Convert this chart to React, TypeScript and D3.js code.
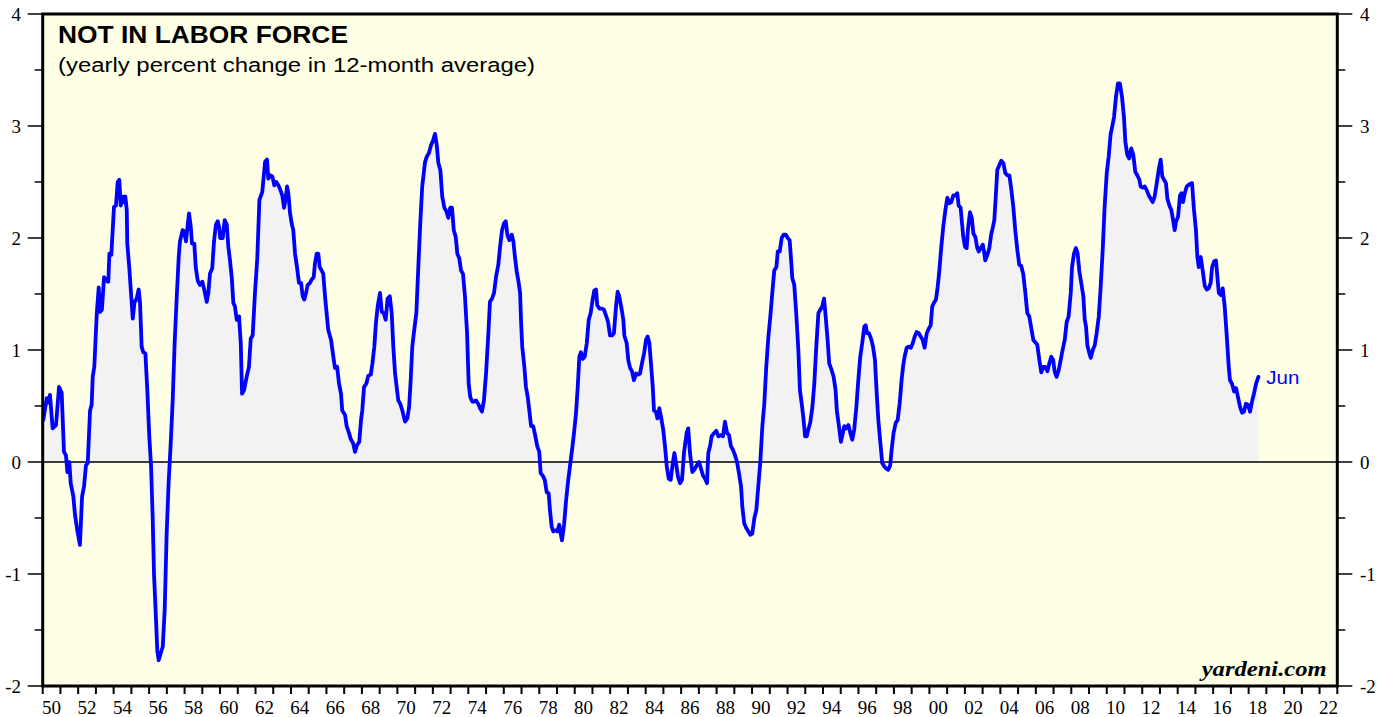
import React from 'react';
import * as d3 from 'd3';

// ---- data: [decimal year, yearly % change in 12-month average] ----
const series1950s: [number, number][] = [
  [1950.03,0.375],[1950.23,0.57],[1950.32,0.53],[1950.41,0.60],[1950.56,0.30],[1950.75,0.33],[1950.92,0.67],[1951.07,0.62],
  [1951.20,0.09],[1951.31,0.06],[1951.39,-0.09],[1951.50,0.0],[1951.58,-0.19],[1951.73,-0.31],[1951.82,-0.47],[1951.95,-0.61],
  [1952.10,-0.74],[1952.22,-0.31],[1952.33,-0.22],[1952.44,-0.03],[1952.54,-0.01],[1952.67,0.46],[1952.76,0.51],[1952.82,0.76],
  [1952.91,0.85],[1953.05,1.33],[1953.16,1.56],[1953.23,1.34],[1953.34,1.36],[1953.46,1.65],[1953.57,1.62],[1953.70,1.61],
  [1953.76,1.86],[1953.87,1.85],[1954.02,2.28],[1954.13,2.29],[1954.23,2.50],[1954.32,2.52],[1954.40,2.29],[1954.51,2.37],
  [1954.58,2.32],[1954.66,2.37],[1954.74,2.25],[1954.77,1.95],[1954.88,1.74],[1954.98,1.51],[1955.08,1.28],[1955.17,1.42],
  [1955.30,1.46],[1955.41,1.54],[1955.49,1.42],[1955.58,1.03],[1955.67,0.98],[1955.79,0.97],[1955.90,0.64],[1956.01,0.23],
  [1956.11,-0.04],[1956.20,-0.49],[1956.28,-1.02],[1956.35,-1.26],[1956.46,-1.68],[1956.54,-1.77],[1956.65,-1.71],[1956.77,-1.65],
  [1956.88,-1.32],[1956.99,-0.64],[1957.10,-0.19],[1957.22,0.17],[1957.33,0.55],[1957.44,1.06],[1957.56,1.48],[1957.67,1.83],
  [1957.74,1.97],[1957.89,2.07],[1957.98,2.06],[1958.08,1.97],[1958.18,2.12],[1958.25,2.22],[1958.35,2.10],[1958.42,1.95],
  [1958.55,1.95],[1958.63,1.74],[1958.74,1.62],[1958.87,1.58],[1959.00,1.61],[1959.11,1.54],[1959.25,1.43],[1959.34,1.51],
  [1959.43,1.68],[1959.56,1.73],[1959.66,1.97],[1959.77,2.12],[1959.87,2.15],[1959.96,2.09],
];

const series1960s: [number, number][] = [
  [1960.01,2.00],[1960.15,2.00],[1960.26,2.16],[1960.38,2.12],[1960.47,1.92],[1960.56,1.80],[1960.66,1.65],[1960.75,1.42],
  [1960.84,1.39],[1960.94,1.27],[1961.07,1.30],[1961.17,1.06],[1961.24,0.61],[1961.35,0.64],[1961.50,0.76],[1961.63,0.85],
  [1961.73,1.10],[1961.84,1.13],[1961.97,1.51],[1962.10,1.82],[1962.22,2.34],[1962.38,2.41],[1962.54,2.68],[1962.65,2.70],
  [1962.72,2.53],[1962.82,2.56],[1962.95,2.55],[1963.06,2.47],[1963.17,2.50],[1963.29,2.47],[1963.40,2.43],[1963.51,2.38],
  [1963.61,2.27],[1963.70,2.35],[1963.78,2.46],[1963.85,2.40],[1963.95,2.22],[1964.04,2.13],[1964.13,2.07],[1964.23,1.86],
  [1964.34,1.74],[1964.45,1.60],[1964.57,1.60],[1964.66,1.48],[1964.75,1.45],[1964.85,1.51],[1964.94,1.58],[1965.07,1.60],
  [1965.17,1.63],[1965.28,1.65],[1965.35,1.77],[1965.45,1.86],[1965.54,1.86],[1965.62,1.74],[1965.73,1.71],[1965.82,1.68],
  [1965.92,1.48],[1966.01,1.33],[1966.10,1.18],[1966.26,1.09],[1966.39,0.94],[1966.48,0.84],[1966.60,0.85],[1966.71,0.70],
  [1966.82,0.61],[1966.89,0.46],[1967.05,0.42],[1967.14,0.32],[1967.27,0.26],[1967.38,0.20],[1967.50,0.17],[1967.61,0.09],
  [1967.72,0.15],[1967.85,0.18],[1967.95,0.375],[1968.02,0.46],[1968.12,0.67],[1968.25,0.70],[1968.36,0.77],[1968.50,0.78],
  [1968.59,0.88],[1968.70,1.03],[1968.79,1.24],[1968.89,1.39],[1969.02,1.51],[1969.12,1.34],[1969.23,1.33],[1969.34,1.27],
  [1969.45,1.46],[1969.57,1.48],[1969.68,1.33],[1969.77,1.03],[1969.87,0.79],[1969.96,0.67],
];

const series1970s: [number, number][] = [
  [1970.05,0.55],[1970.16,0.52],[1970.28,0.46],[1970.43,0.36],[1970.56,0.39],[1970.66,0.49],[1970.75,0.73],[1970.84,1.03],
  [1970.95,1.18],[1971.07,1.33],[1971.18,1.74],[1971.29,2.13],[1971.40,2.46],[1971.56,2.68],[1971.67,2.73],[1971.78,2.76],
  [1971.90,2.83],[1972.01,2.87],[1972.12,2.93],[1972.22,2.83],[1972.31,2.67],[1972.42,2.61],[1972.53,2.37],[1972.65,2.27],
  [1972.76,2.24],[1972.87,2.18],[1972.98,2.27],[1973.08,2.27],[1973.18,2.07],[1973.29,2.01],[1973.38,1.86],[1973.49,1.82],
  [1973.59,1.71],[1973.70,1.68],[1973.81,1.48],[1973.93,1.15],[1974.02,0.70],[1974.11,0.58],[1974.22,0.54],[1974.32,0.54],
  [1974.43,0.55],[1974.56,0.52],[1974.66,0.48],[1974.77,0.45],[1974.88,0.55],[1975.00,0.79],[1975.13,1.15],[1975.22,1.43],
  [1975.34,1.46],[1975.45,1.51],[1975.56,1.65],[1975.69,1.76],[1975.79,1.92],[1975.90,2.07],[1976.01,2.13],[1976.11,2.15],
  [1976.20,2.03],[1976.31,1.98],[1976.45,2.03],[1976.54,1.97],[1976.63,1.83],[1976.73,1.70],[1976.82,1.62],[1976.92,1.51],
  [1976.97,1.27],[1977.04,1.03],[1977.16,0.85],[1977.25,0.67],[1977.35,0.58],[1977.44,0.46],[1977.54,0.32],[1977.66,0.32],
  [1977.78,0.23],[1977.89,0.14],[1978.00,0.09],[1978.08,-0.10],[1978.19,-0.12],[1978.31,-0.16],[1978.42,-0.27],[1978.53,-0.28],
  [1978.61,-0.44],[1978.70,-0.58],[1978.79,-0.62],[1978.91,-0.61],[1979.02,-0.62],[1979.13,-0.56],[1979.21,-0.64],[1979.28,-0.70],
  [1979.40,-0.56],[1979.51,-0.35],[1979.62,-0.18],[1979.73,-0.04],[1979.85,0.11],[1979.96,0.26],
];

const series1980s: [number, number][] = [
  [1980.07,0.43],[1980.17,0.67],[1980.26,0.94],[1980.35,0.98],[1980.45,0.92],[1980.56,0.94],[1980.68,1.06],[1980.79,1.27],
  [1980.90,1.33],[1981.01,1.45],[1981.10,1.53],[1981.20,1.54],[1981.27,1.40],[1981.39,1.37],[1981.54,1.37],[1981.65,1.36],
  [1981.76,1.31],[1981.88,1.25],[1981.99,1.13],[1982.10,1.13],[1982.21,1.15],[1982.33,1.39],[1982.42,1.52],[1982.51,1.48],
  [1982.65,1.36],[1982.74,1.27],[1982.80,1.13],[1982.93,1.06],[1983.02,0.91],[1983.12,0.84],[1983.23,0.81],[1983.34,0.73],
  [1983.46,0.79],[1983.57,0.78],[1983.68,0.79],[1983.79,0.88],[1983.91,0.97],[1984.02,1.09],[1984.11,1.12],[1984.21,1.06],
  [1984.30,0.88],[1984.40,0.67],[1984.47,0.46],[1984.58,0.45],[1984.66,0.39],[1984.77,0.48],[1984.88,0.39],[1984.99,0.29],
  [1985.09,0.14],[1985.19,-0.04],[1985.30,-0.15],[1985.41,-0.16],[1985.53,-0.01],[1985.62,0.08],[1985.71,-0.01],[1985.82,-0.13],
  [1985.94,-0.19],[1986.05,-0.16],[1986.16,0.08],[1986.31,0.26],[1986.40,0.30],[1986.50,0.08],[1986.63,-0.09],[1986.74,-0.07],
  [1986.88,-0.03],[1987.01,0.0],[1987.12,-0.06],[1987.23,-0.12],[1987.35,-0.15],[1987.46,-0.19],[1987.53,0.08],[1987.63,0.14],
  [1987.72,0.23],[1987.87,0.26],[1987.98,0.28],[1988.10,0.23],[1988.25,0.24],[1988.36,0.23],[1988.47,0.36],[1988.59,0.26],
  [1988.70,0.24],[1988.81,0.14],[1988.92,0.11],[1989.04,0.06],[1989.15,0.0],[1989.26,-0.10],[1989.38,-0.22],[1989.45,-0.40],
  [1989.56,-0.55],[1989.67,-0.59],[1989.79,-0.62],[1989.90,-0.65],
];

const series1990s: [number, number][] = [
  [1990.01,-0.64],[1990.13,-0.50],[1990.24,-0.43],[1990.35,-0.22],[1990.46,-0.01],[1990.58,0.32],[1990.69,0.52],[1990.80,0.85],
  [1990.92,1.12],[1991.03,1.30],[1991.14,1.51],[1991.25,1.71],[1991.37,1.74],[1991.45,1.88],[1991.56,1.88],[1991.67,2.00],
  [1991.78,2.03],[1991.90,2.03],[1992.01,2.00],[1992.12,1.98],[1992.19,1.83],[1992.27,1.64],[1992.38,1.58],[1992.49,1.33],
  [1992.61,1.00],[1992.70,0.64],[1992.80,0.52],[1992.89,0.40],[1992.99,0.23],[1993.08,0.23],[1993.17,0.29],[1993.28,0.35],
  [1993.40,0.49],[1993.51,0.70],[1993.62,1.03],[1993.74,1.33],[1993.85,1.36],[1993.96,1.39],[1994.06,1.46],[1994.15,1.30],
  [1994.26,1.09],[1994.35,0.88],[1994.49,0.82],[1994.60,0.76],[1994.71,0.64],[1994.78,0.46],[1994.90,0.32],[1995.01,0.18],
  [1995.12,0.26],[1995.20,0.32],[1995.31,0.30],[1995.43,0.33],[1995.54,0.26],[1995.65,0.20],[1995.76,0.29],[1995.88,0.49],
  [1995.99,0.73],[1996.10,0.94],[1996.21,1.06],[1996.33,1.21],[1996.41,1.22],[1996.48,1.15],[1996.59,1.15],[1996.71,1.10],
  [1996.82,1.03],[1996.93,0.91],[1997.03,0.61],[1997.12,0.375],[1997.23,0.18],[1997.34,-0.01],[1997.46,-0.04],[1997.57,-0.06],
  [1997.68,-0.07],[1997.79,-0.03],[1997.87,0.11],[1997.98,0.26],[1998.10,0.35],[1998.21,0.375],[1998.32,0.52],[1998.43,0.73],
  [1998.52,0.86],[1998.60,0.94],[1998.72,1.02],[1998.83,1.03],[1998.95,1.02],[1999.06,1.06],[1999.17,1.12],[1999.28,1.16],
  [1999.40,1.15],[1999.51,1.12],[1999.62,1.09],[1999.73,1.02],[1999.85,1.15],[1999.96,1.19],
];

const series2000s: [number, number][] = [
  [2000.07,1.22],[2000.16,1.39],[2000.25,1.42],[2000.37,1.45],[2000.47,1.57],[2000.56,1.71],[2000.67,1.92],[2000.78,2.10],
  [2000.90,2.25],[2001.01,2.36],[2001.12,2.31],[2001.23,2.32],[2001.35,2.38],[2001.46,2.38],[2001.57,2.40],[2001.65,2.29],
  [2001.76,2.27],[2001.84,2.13],[2001.91,2.01],[2002.01,1.92],[2002.10,1.91],[2002.18,2.09],[2002.29,2.23],[2002.39,2.18],
  [2002.48,2.04],[2002.59,2.01],[2002.70,1.91],[2002.78,1.88],[2002.89,1.91],[2003.01,1.94],[2003.08,1.88],[2003.15,1.80],
  [2003.27,1.85],[2003.38,1.91],[2003.48,2.03],[2003.57,2.09],[2003.66,2.16],[2003.74,2.37],[2003.83,2.61],[2003.94,2.65],
  [2004.05,2.69],[2004.17,2.67],[2004.28,2.58],[2004.39,2.56],[2004.51,2.56],[2004.62,2.43],[2004.73,2.28],[2004.84,2.07],
  [2004.96,1.89],[2005.07,1.76],[2005.18,1.75],[2005.29,1.68],[2005.41,1.51],[2005.52,1.33],[2005.63,1.30],[2005.75,1.19],
  [2005.86,1.09],[2005.97,1.07],[2006.08,1.05],[2006.20,0.91],[2006.31,0.80],[2006.42,0.85],[2006.53,0.85],[2006.65,0.81],
  [2006.76,0.88],[2006.87,0.94],[2006.98,0.91],[2007.06,0.81],[2007.17,0.76],[2007.29,0.82],[2007.40,0.91],[2007.51,1.00],
  [2007.63,1.09],[2007.74,1.25],[2007.85,1.30],[2007.97,1.51],[2008.04,1.74],[2008.15,1.86],[2008.26,1.91],[2008.36,1.86],
  [2008.45,1.71],[2008.56,1.60],[2008.68,1.48],[2008.76,1.27],[2008.83,1.21],[2008.91,1.04],[2009.02,0.97],[2009.10,0.93],
  [2009.21,1.00],[2009.32,1.04],[2009.43,1.15],[2009.55,1.30],[2009.66,1.57],[2009.77,1.89],[2009.88,2.28],
];

const series2010s: [number, number][] = [
  [2010.00,2.58],[2010.11,2.73],[2010.22,2.93],[2010.29,2.98],[2010.41,3.08],[2010.52,3.26],[2010.63,3.38],[2010.74,3.38],
  [2010.86,3.26],[2010.97,3.08],[2011.05,2.86],[2011.16,2.74],[2011.27,2.71],[2011.38,2.80],[2011.50,2.74],[2011.61,2.59],
  [2011.72,2.56],[2011.84,2.52],[2011.91,2.46],[2012.03,2.45],[2012.14,2.46],[2012.25,2.43],[2012.37,2.38],[2012.48,2.35],
  [2012.59,2.32],[2012.70,2.37],[2012.82,2.49],[2012.93,2.61],[2013.04,2.70],[2013.13,2.55],[2013.23,2.52],[2013.34,2.49],
  [2013.42,2.35],[2013.53,2.29],[2013.64,2.25],[2013.72,2.18],[2013.83,2.07],[2013.91,2.15],[2014.02,2.19],[2014.13,2.38],
  [2014.21,2.40],[2014.30,2.32],[2014.40,2.40],[2014.51,2.46],[2014.66,2.48],[2014.81,2.49],[2014.92,2.25],[2015.03,2.07],
  [2015.11,1.83],[2015.19,1.74],[2015.30,1.83],[2015.41,1.71],[2015.53,1.57],[2015.64,1.54],[2015.75,1.55],[2015.86,1.60],
  [2015.94,1.74],[2016.05,1.79],[2016.16,1.80],[2016.24,1.65],[2016.32,1.51],[2016.43,1.49],[2016.54,1.55],[2016.65,1.39],
  [2016.77,1.12],[2016.88,0.85],[2016.95,0.73],[2017.06,0.70],[2017.18,0.63],[2017.29,0.66],[2017.40,0.58],[2017.52,0.49],
  [2017.63,0.44],[2017.74,0.45],[2017.85,0.52],[2017.97,0.51],[2018.08,0.45],[2018.19,0.54],[2018.30,0.61],[2018.42,0.70],
  [2018.55,0.76],
];

const yTicks = [-2, -1, 0, 1, 2, 3, 4];
const yMinorTicks = [-1.5, -0.5, 0.5, 1.5, 2.5, 3.5];
const xTickYears = d3.range(1950, 2024);
const xLabelYears = d3.range(1950, 2023, 2);
const xLabels = xLabelYears.map((yr) => String(yr % 100).padStart(2, '0'));

const TITLE = 'NOT IN LABOR FORCE';
const SUBTITLE = '(yearly percent change in 12-month average)';
const LAST_LABEL = 'Jun';
const SOURCE = 'yardeni.com';

const data = [
  ...series1950s, ...series1960s, ...series1970s, ...series1980s,
  ...series1990s, ...series2000s, ...series2010s,
];

const W = 1388;
const H = 717;
const L = 42.7, R = 1337.3, T = 14, B = 686;

export default function App() {
  const x = d3.scaleLinear().domain([1950, 2023]).range([L, R]);
  const y = d3.scaleLinear().domain([-2, 4]).range([B, T]);

  const line = d3.line<[number, number]>().x((d) => x(d[0])).y((d) => y(d[1]));
  const area = d3.area<[number, number]>().x((d) => x(d[0])).y0(y(0)).y1((d) => y(d[1]));

  const last = data[data.length - 1];
  const serif = '"Liberation Serif", "Times New Roman", serif';
  const sans = '"Liberation Sans", Arial, Helvetica, sans-serif';

  return (
    <svg width={W} height={H} style={{ position: 'absolute', left: 0, top: 0, display: 'block', background: '#fff' }}>
      <defs>
        <clipPath id="plot">
          <rect x={L} y={T} width={R - L} height={B - T} />
        </clipPath>
      </defs>
      <rect x={L} y={T} width={R - L} height={B - T} fill="#FFFFE6" />
      <g clipPath="url(#plot)">
        <path d={area(data) || ''} fill="#F2F2F2" />
        <line x1={L} x2={R} y1={y(0)} y2={y(0)} stroke="#000" strokeWidth={1.3} />
        <path d={line(data) || ''} fill="none" stroke="#0000FF" strokeWidth={3.8} strokeLinejoin="round" strokeLinecap="round" />
      </g>
      <rect x={L} y={T} width={R - L} height={B - T} fill="none" stroke="#000" strokeWidth={3} />

      {/* Y axes */}
      {yTicks.map((t) => (
        <g key={'y' + t}>
          <line x1={L - 15} x2={L} y1={y(t)} y2={y(t)} stroke="#000" strokeWidth={1.5} />
          <line x1={R} x2={R + 15} y1={y(t)} y2={y(t)} stroke="#000" strokeWidth={1.5} />
          <text x={21} y={y(t)} dy="0.35em" textAnchor="end" fontFamily={serif} fontSize={19} fill="#000">{t}</text>
          <text x={1360} y={y(t)} dy="0.35em" textAnchor="start" fontFamily={serif} fontSize={19} fill="#000">{t}</text>
        </g>
      ))}
      {yMinorTicks.map((t) => (
        <g key={'ym' + t}>
          <line x1={L - 8} x2={L} y1={y(t)} y2={y(t)} stroke="#000" strokeWidth={1.5} />
          <line x1={R} x2={R + 8} y1={y(t)} y2={y(t)} stroke="#000" strokeWidth={1.5} />
        </g>
      ))}

      {/* X axis */}
      {xTickYears.map((yr) => (
        <line key={'xt' + yr} x1={x(yr)} x2={x(yr)} y1={B} y2={B + 8} stroke="#000" strokeWidth={2} />
      ))}
      {xLabelYears.map((yr, i) => (
        <text key={'xl' + yr} x={x(yr + 0.5)} y={714} textAnchor="middle" fontFamily={serif} fontSize={19} fill="#000">{xLabels[i]}</text>
      ))}

      {/* Titles */}
      <text x={58} y={42.7} fontFamily={sans} fontWeight="bold" fontSize={23} fill="#000" textLength={290} lengthAdjust="spacingAndGlyphs">{TITLE}</text>
      <text x={58} y={72} fontFamily={sans} fontSize={20} fill="#000" textLength={477} lengthAdjust="spacingAndGlyphs">{SUBTITLE}</text>
      <text x={x(last[0]) + 8} y={384} fontFamily={sans} fontSize={18} fill="#0000FF" textLength={33} lengthAdjust="spacingAndGlyphs">{LAST_LABEL}</text>
      <text x={1326.7} y={676} textAnchor="end" fontFamily={serif} fontWeight="bold" fontStyle="italic" fontSize={20} fill="#000" textLength={125} lengthAdjust="spacingAndGlyphs">{SOURCE}</text>
    </svg>
  );
}
